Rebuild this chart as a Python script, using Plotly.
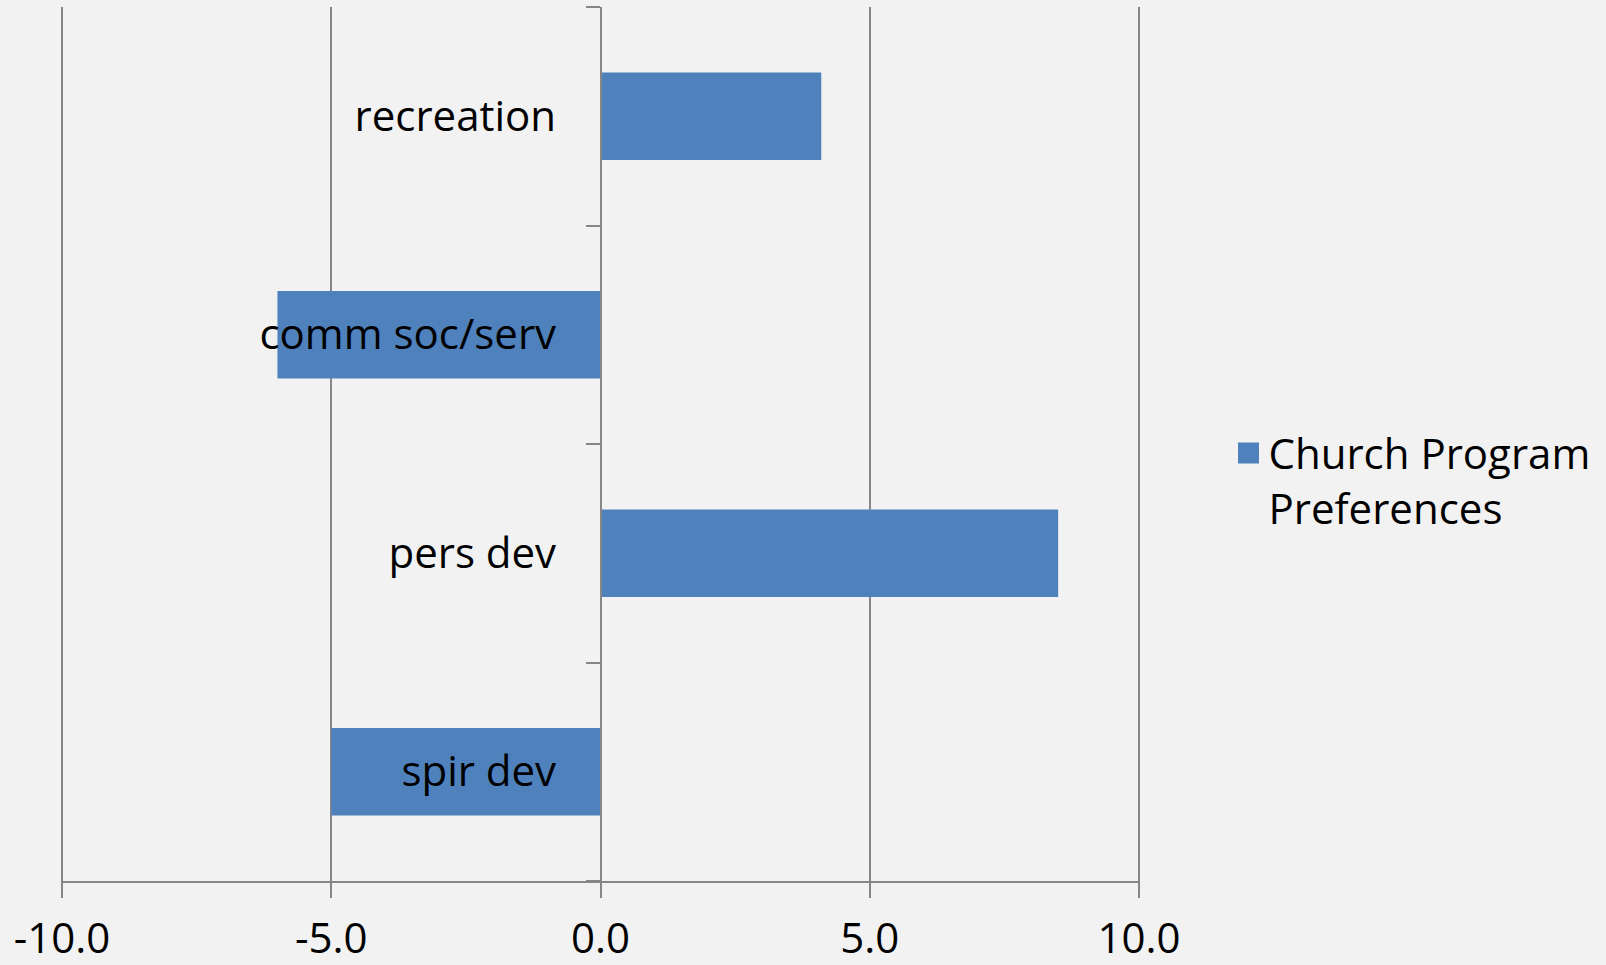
import plotly.graph_objects as go

# categories listed bottom to top (plotly draws horizontal bars upward)
categories = ["spir dev", "pers dev", "comm soc/serv", "recreation"]
values = [-5.0, 8.5, -6.0, 4.1]
series_name = "Church Program<br>Preferences"
x_ticks = [-10, -5, 0, 5, 10]
x_tick_labels = ["-10.0", "-5.0", "0.0", "5.0", "10.0"]

bar_color = "#4f81bd"
grid_color = "#868686"
bg = "#f2f2f2"
font_family = "Open Sans"

fig = go.Figure()
fig.add_trace(go.Bar(
    y=categories,
    x=values,
    orientation="h",
    width=0.4,
    marker=dict(color=bar_color, line=dict(width=0)),
    showlegend=False,
))
# legend-only marker so the square can be sized like the original
fig.add_trace(go.Scatter(
    x=[None], y=[None],
    mode="markers",
    marker=dict(symbol="square", size=16, color=bar_color,
                line=dict(color=bar_color, width=5)),
    name=series_name,
))

fig.update_layout(
    width=1606, height=965,
    paper_bgcolor=bg, plot_bgcolor=bg,
    margin=dict(l=61, r=466, t=7, b=84),
    font=dict(family=font_family, size=42, color="black"),
    legend=dict(x=1.082, y=0.458, xanchor="left", yanchor="middle",
                valign="top", bgcolor="rgba(0,0,0,0)",
                font=dict(size=42), itemwidth=30),
    bargap=0.6,
)
# small pad on the range so the -10 / 10 grid lines are drawn
fig.update_xaxes(
    range=[-10.02, 10.02], tickvals=x_ticks, ticktext=x_tick_labels,
    showgrid=True, gridcolor=grid_color, gridwidth=1.5,
    zeroline=False,
    showline=True, linecolor=grid_color, linewidth=2,
    ticks="outside", ticklen=15, tickcolor=grid_color, tickwidth=1.5,
    ticklabelstandoff=5, automargin=False,
    domain=[0, 1],
)
fig.update_yaxes(
    type="category", categoryorder="array", categoryarray=categories,
    anchor="free", position=0.5,
    showgrid=False, zeroline=False,
    showline=True, linecolor=grid_color, linewidth=2,
    ticks="outside", ticklen=14, tickcolor=grid_color, tickwidth=2,
    tickson="boundaries", ticklabelstandoff=35, automargin=False,
)

fig.write_html(
    "out.html",
    config={"displayModeBar": False},
    post_script="document.body.style.margin='0';"
                "document.body.style.background='#f2f2f2';",
)
